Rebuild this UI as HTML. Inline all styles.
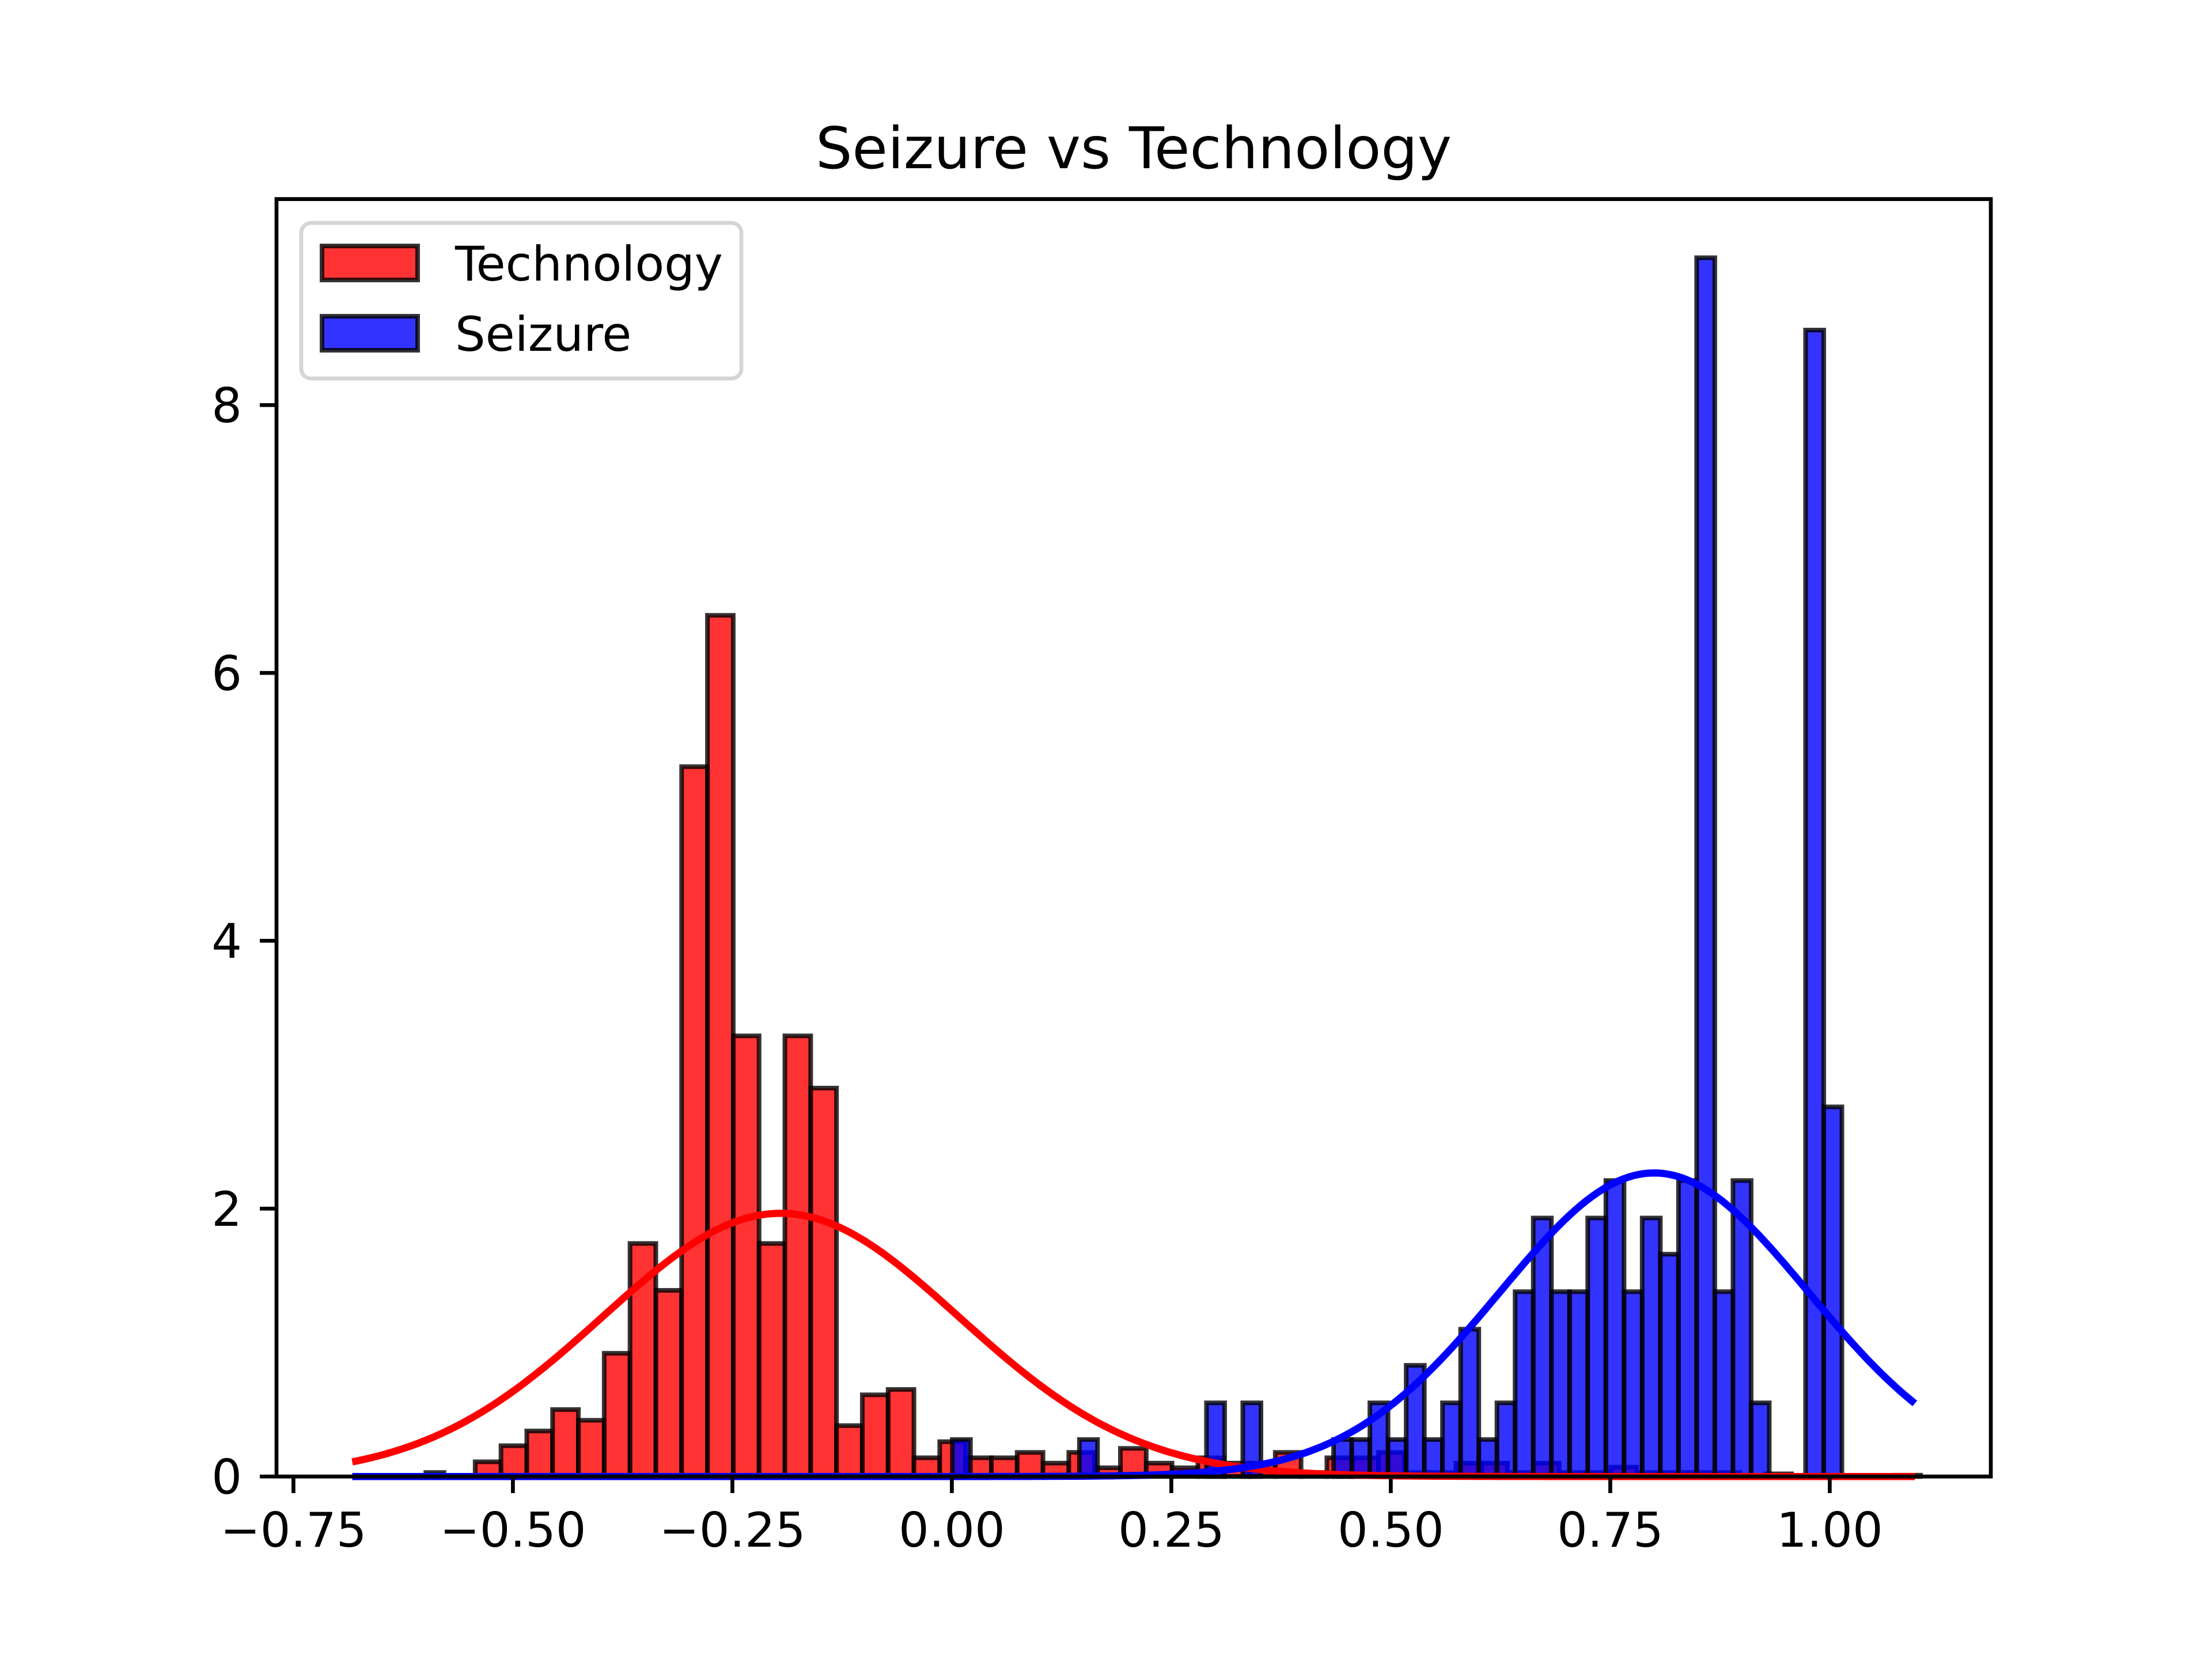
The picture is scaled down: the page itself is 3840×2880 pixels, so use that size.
<!DOCTYPE html>
<html><head><meta charset="utf-8"><style>
html,body{margin:0;padding:0;background:#fff;}
svg{display:block;font-family:"DejaVu Sans","Liberation Sans",sans-serif;}
</style></head><body>
<svg id="chart" width="3840" height="2880" viewBox="0 0 3840 2880" xmlns="http://www.w3.org/2000/svg">
<rect x="0" y="0" width="3840" height="2880" fill="#fff"/>
<text x="1968" y="292" font-size="100" text-anchor="middle">Seizure vs Technology</text>
<g id="bars"></g>
<g id="curves"></g>
<rect x="480" y="345.6" width="2976" height="2217.6" fill="none" stroke="#000" stroke-width="6.7"/>
<g id="xticks"></g>
<g id="yticks"></g>
<g>
<rect x="523" y="387" width="764" height="270" rx="17" fill="#fff" fill-opacity="0.8" stroke="#d5d5d5" stroke-width="6.7"/>
<rect x="559" y="427" width="166" height="59" fill="#ff0000" fill-opacity="0.8" stroke="#000" stroke-opacity="0.8" stroke-width="8"/>
<text x="790" y="487" font-size="83">Technology</text>
<rect x="559" y="549" width="166" height="59" fill="#0000ff" fill-opacity="0.8" stroke="#000" stroke-opacity="0.8" stroke-width="8"/>
<text x="790" y="609" font-size="83">Seizure</text>
</g>
</svg>
<script>
const techStart = -0.543;
const techWidth = 0.0294;
const techValues = [0.11,0.23,0.34,0.5,0.42,0.92,1.74,1.39,5.30,6.43,3.29,1.74,3.29,2.90,0.38,0.61,0.65,0.14,0.26,0.14,0.14,0.18,0.10,0.18,0.065,0.21,0.10,0.065,0.14,0.10,0.10,0.18,0.03,0.14,0.14,0.18,0.03,0.03,0.1,0.1,0.03,0.1,0.03,0.03,0.07,0.03,0.03,0.03,0.03,0,0.02,0,0,0,0,0.01];
const seizStart = -0.5992;
const seizWidth = 0.02068;
const seizValues = [0.03,0,0,0,0,0,0,0,0,0,0,0,0,0,0,0,0,0,0,0,0,0,0,0,0,0,0,0,0,0.276,0,0,0,0,0,0,0.276,0,0,0,0,0,0,0.55,0,0.55,0,0,0,0,0.276,0.276,0.55,0.276,0.83,0.276,0.55,1.1,0.276,0.55,1.38,1.93,1.38,1.38,1.93,2.21,1.38,1.93,1.66,2.21,9.1,1.38,2.21,0.55,0,0,8.56,2.76];
const techFit = {mu:-0.195, sigma:0.203};
const seizFit = {mu:0.80, sigma:0.176};
const curveRange = [-0.683, 1.097];
const xTicks = [-0.75,-0.5,-0.25,0,0.25,0.5,0.75,1.0];
const xTickLabels = ["\u22120.75","\u22120.50","\u22120.25","0.00","0.25","0.50","0.75","1.00"];
const yTicks = [0,2,4,6,8];
const yTickLabels = ["0","2","4","6","8"];

const NS="http://www.w3.org/2000/svg";
function X(v){return 509.4+(v+0.75)*1524;}
function Y(v){return 2563.2-v*232.5;}
function mk(tag,attrs,parent){const e=document.createElementNS(NS,tag);for(const k in attrs)e.setAttribute(k,attrs[k]);parent.appendChild(e);return e;}
const bars=document.getElementById('bars');
function drawHist(start,w,vals,color,name){
  vals.forEach((v,i)=>{
    if(v<=0)return;
    const x0=X(start+i*w),x1=X(start+(i+1)*w);
    const r=mk('rect',{x:x0,y:Y(v),width:x1-x0,height:Y(0)-Y(v),fill:color,'fill-opacity':0.8,stroke:'#000','stroke-opacity':0.8,'stroke-width':8},bars);
    
    
  });
}
drawHist(techStart,techWidth,techValues,'#ff0000','technology');
drawHist(seizStart,seizWidth,seizValues,'#0000ff','seizure');
const curves=document.getElementById('curves');
function pdf(x,f){return Math.exp(-0.5*Math.pow((x-f.mu)/f.sigma,2))/(f.sigma*Math.sqrt(2*Math.PI));}
function drawCurve(f,color,name){
  let d='';const n=300;
  for(let i=0;i<=n;i++){const x=curveRange[0]+(curveRange[1]-curveRange[0])*i/n;d+=(i?'L':'M')+X(x).toFixed(1)+','+Y(pdf(x,f)).toFixed(1);}
  const p=mk('path',{d:d,fill:'none',stroke:color,'stroke-width':12.5,'stroke-linejoin':'round'},curves);
  
  
}
drawCurve(techFit,'#ff0000','technology');
drawCurve(seizFit,'#0000ff','seizure');
const xg=document.getElementById('xticks');
xTicks.forEach((t,i)=>{
  const l=mk('line',{x1:X(t),x2:X(t),y1:2563,y2:2592,stroke:'#000','stroke-width':6.7},xg);
  
  
  const tx=mk('text',{x:X(t),y:2685,'font-size':83,'text-anchor':'middle'},xg);
  tx.textContent=xTickLabels[i];
  
  
});
const yg=document.getElementById('yticks');
yTicks.forEach((t,i)=>{
  const l=mk('line',{x1:451,x2:480,y1:Y(t),y2:Y(t),stroke:'#000','stroke-width':6.7},yg);
  
  
  const tx=mk('text',{x:420,y:Y(t)+30,'font-size':83,'text-anchor':'end'},yg);
  tx.textContent=yTickLabels[i];
  
  
});
</script>
</body></html>
